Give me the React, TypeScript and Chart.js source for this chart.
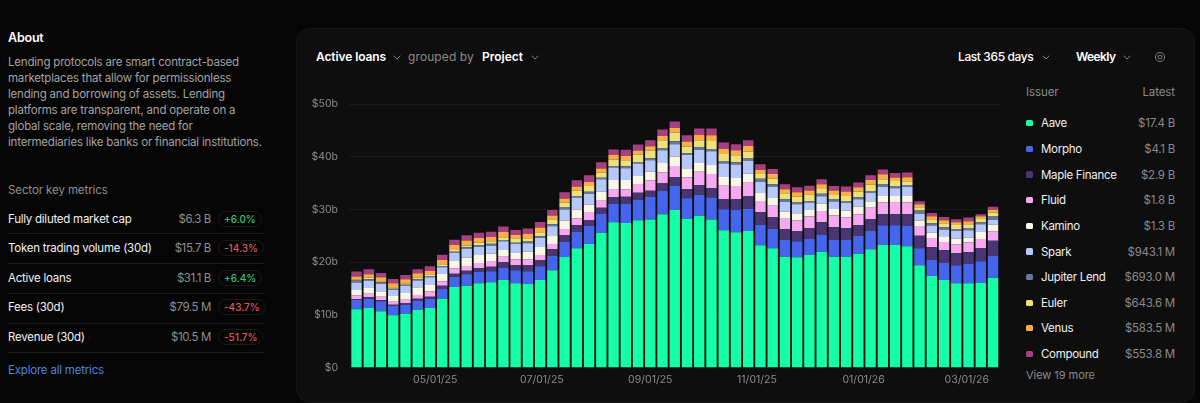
import React, { useEffect, useRef } from "react";
import { Chart, registerables } from "chart.js";

Chart.register(...registerables);

const weeks = [
  "2025-03-17","2025-03-24","2025-03-31","2025-04-07","2025-04-14","2025-04-21","2025-04-28",
  "2025-05-05","2025-05-12","2025-05-19","2025-05-26","2025-06-02","2025-06-09","2025-06-16",
  "2025-06-23","2025-06-30","2025-07-07","2025-07-14","2025-07-21","2025-07-28","2025-08-04",
  "2025-08-11","2025-08-18","2025-08-25","2025-09-01","2025-09-08","2025-09-15","2025-09-22",
  "2025-09-29","2025-10-06","2025-10-13","2025-10-20","2025-10-27","2025-11-03","2025-11-10",
  "2025-11-17","2025-11-24","2025-12-01","2025-12-08","2025-12-15","2025-12-22","2025-12-29",
  "2026-01-05","2026-01-12","2026-01-19","2026-01-26","2026-02-02","2026-02-09","2026-02-16",
  "2026-02-23","2026-03-02","2026-03-09","2026-03-16",
];

const aave = [11.08,11.33,10.70,9.94,10.25,11.01,11.33,13.10,15.32,15.57,16.01,16.20,16.65,16.01,15.89,16.65,18.48,21.02,22.66,23.48,25.64,27.60,27.47,27.98,28.11,29.12,29.94,28.23,28.86,28.11,26.08,25.70,25.95,23.23,22.66,21.08,20.95,21.40,22.03,21.08,21.08,21.65,22.47,23.36,23.29,23.04,19.43,17.41,16.65,16.01,16.01,16.14,17.09];
const morpho = [1.84,1.77,1.90,1.77,1.71,1.71,1.77,1.84,1.90,2.15,2.15,2.09,2.34,2.47,2.41,2.60,2.72,2.91,3.10,3.42,3.54,3.54,3.67,3.92,4.30,4.49,4.56,3.92,3.92,4.18,3.99,4.24,4.24,3.92,3.73,3.16,3.04,3.04,3.16,3.16,3.16,3.42,3.48,3.67,3.73,3.86,3.23,3.04,3.23,3.42,3.67,4.05,4.11];
const maple = [0.13,0.32,0.25,0.25,0.32,0.38,0.38,0.63,0.63,0.70,0.70,0.89,1.01,1.01,1.20,1.20,1.27,1.27,1.27,1.14,1.20,1.27,1.33,1.33,1.20,1.46,1.65,1.71,1.84,1.77,1.96,2.09,2.41,2.34,2.15,2.09,1.96,2.09,2.41,2.41,2.28,2.03,2.28,2.09,2.09,2.22,2.41,2.41,2.41,2.34,2.22,2.53,2.91];
const fluid = [0.70,0.63,0.63,0.57,0.63,0.70,1.01,0.82,1.01,0.89,1.01,1.08,1.08,1.08,1.08,0.95,1.01,1.14,1.33,1.52,1.33,1.52,1.39,1.65,1.96,2.03,2.15,2.28,2.60,2.72,2.53,2.47,2.53,2.15,2.22,1.96,2.03,2.15,2.15,2.22,2.03,2.03,2.15,2.22,2.22,2.22,1.84,1.77,1.58,1.65,1.90,1.71,1.77];
const kamino = [1.01,1.08,1.01,1.08,1.27,1.46,1.20,1.39,1.39,1.58,1.52,1.39,1.27,1.20,1.46,1.52,1.65,1.58,1.65,1.39,1.71,1.71,1.77,1.52,1.65,1.77,1.77,1.71,1.65,1.71,1.65,1.52,1.71,1.52,1.46,1.33,1.33,1.27,1.39,1.27,1.27,1.46,1.20,1.27,1.27,1.27,1.01,1.01,0.95,1.08,0.89,1.33,1.27];
const spark = [1.39,1.39,1.39,1.14,1.33,1.27,1.46,1.27,1.52,1.65,1.58,1.52,1.65,1.71,1.58,1.71,1.71,2.09,2.28,2.09,2.34,2.34,2.22,2.34,2.15,2.41,2.34,2.53,2.47,2.60,2.53,2.53,2.41,2.09,2.09,1.90,1.71,1.39,1.39,1.39,1.46,1.39,1.65,1.71,1.46,1.71,1.27,1.33,1.39,1.46,1.39,1.46,0.95];
const jupiter = [0.38,0.25,0.32,0.25,0.25,0.25,0.25,0.25,0.25,0.32,0.32,0.38,0.25,0.25,0.32,0.32,0.38,0.38,0.32,0.38,0.32,0.32,0.38,0.32,0.38,0.32,0.57,0.32,0.57,0.44,0.38,0.44,0.44,0.63,0.51,0.44,0.32,0.32,0.51,0.38,0.38,0.38,0.32,0.44,0.32,0.38,0.63,0.44,0.44,0.38,0.44,0.32,0.70];
const euler = [0.19,0.32,0.13,0.25,0.19,0.32,0.32,0.32,0.32,0.32,0.44,0.44,0.51,0.82,0.63,0.76,0.95,0.95,1.01,1.08,0.95,1.20,1.14,1.39,1.46,1.58,1.65,1.27,1.27,1.52,1.46,1.33,1.33,0.89,1.08,1.14,1.14,1.27,0.89,0.89,0.95,1.08,1.20,1.01,1.08,0.70,0.63,0.76,0.76,0.76,0.70,0.82,0.63];
const venus = [0.57,0.63,0.82,0.76,0.82,0.82,0.63,0.82,0.95,0.95,0.89,0.82,1.01,0.63,0.82,0.89,0.70,0.76,0.76,0.76,0.76,0.89,0.82,0.76,0.82,0.82,0.89,0.95,1.01,1.08,0.95,0.95,1.08,0.82,0.89,0.76,0.82,0.70,0.89,0.82,0.82,0.82,0.89,0.95,0.63,0.76,0.57,0.57,0.57,0.51,0.57,0.38,0.57];
const compound = [0.95,0.95,0.82,0.82,0.82,0.76,0.89,1.01,1.01,1.01,1.01,1.01,1.01,0.95,1.01,1.08,1.08,1.20,1.20,1.27,1.20,1.01,1.20,1.14,1.14,1.20,1.20,1.20,1.20,1.27,1.20,1.14,1.08,1.01,0.95,0.95,0.95,0.89,0.95,0.89,0.95,0.89,0.89,0.89,0.89,0.89,0.57,0.63,0.63,0.57,0.70,0.38,0.57];

const seriesNames = ["Aave","Morpho","Maple Finance","Fluid","Kamino","Spark","Jupiter Lend","Euler","Venus","Compound"];
const seriesValues = [aave,morpho,maple,fluid,kamino,spark,jupiter,euler,venus,compound];
const seriesColors = ["#14ffa8","#4465ec","#4a3573","#f6a8f0","#f9f6e6","#b6c8fb","#66779c","#ede27a","#fbae45","#a83f80"];
const latestLabels = ["$17.4 B","$4.1 B","$2.9 B","$1.8 B","$1.3 B","$943.1 M","$693.0 M","$643.6 M","$583.5 M","$553.8 M"];

const xTickDates = ["2025-05-01","2025-07-01","2025-09-01","2025-11-01","2026-01-01","2026-03-01"];
const xTickLabels = ["05/01/25","07/01/25","09/01/25","11/01/25","01/01/26","03/01/26"];
const yTicks = [0,10,20,30,40,50];
const yTickLabels = ["$0","$10b","$20b","$30b","$40b","$50b"];

const aboutLines = [
  "Lending protocols are smart contract-based",
  "marketplaces that allow for permissionless",
  "lending and borrowing of assets. Lending",
  "platforms are transparent, and operate on a",
  "global scale, removing the need for",
  "intermediaries like banks or financial institutions.",
];
const metricNames = ["Fully diluted market cap","Token trading volume (30d)","Active loans","Fees (30d)","Revenue (30d)"];
const metricValues = ["$6.3 B","$15.7 B","$31.1 B","$79.5 M","$10.5 M"];
const metricChanges = ["+6.0%","-14.3%","+6.4%","-43.7%","-51.7%"];

const FONT = "Inter, 'Noto Sans', sans-serif";
const DAY = 86400000;

const abs = (left: number, top: number, extra: React.CSSProperties = {}): React.CSSProperties => ({
  position: "absolute", left, top, whiteSpace: "nowrap", ...extra,
});

function Chevron({ x, y }: { x: number; y: number }) {
  return (
    <svg style={{ position: "absolute", left: x, top: y }} width="8" height="5" viewBox="0 0 8 5">
      <path d="M0.7 0.7 L4 4 L7.3 0.7" fill="none" stroke="#8d8d8d" strokeWidth="0.9" />
    </svg>
  );
}

function Label({ x, cy, text, size = 11.5, color = "#fff", weight = 400, right, spacing = -0.25 }: any) {
  const h = 18;
  const style: React.CSSProperties = {
    position: "absolute", top: cy - h / 2, height: h, lineHeight: h + "px",
    fontSize: size, color, fontWeight: weight, whiteSpace: "nowrap",
    letterSpacing: spacing,
  };
  if (right !== undefined) style.right = 1200 - right; else style.left = x;
  return <div style={style}>{text}</div>;
}

export default function App() {
  const ref = useRef<HTMLCanvasElement>(null);
  useEffect(() => {
    const times = weeks.map((d) => Date.parse(d));
    const tickTimes = xTickDates.map((d) => Date.parse(d));
    const chart = new Chart(ref.current!, {
      type: "bar",
      data: {
        datasets: seriesNames.map((name, i) => ({
          label: name,
          data: seriesValues[i].map((v, k) => ({ x: times[k], y: v })),
          backgroundColor: seriesColors[i],
          borderWidth: 0,
          barPercentage: 0.85,
          categoryPercentage: 1,
        })),
      },
      options: {
        animation: false,
        responsive: false,
        devicePixelRatio: 1,
        layout: { padding: { top: 14.3, right: 6, left: 0, bottom: 0 } },
        plugins: { legend: { display: false }, tooltip: { enabled: false } },
        scales: {
          x: {
            type: "linear",
            stacked: true,
            offset: false,
            min: times[0] - 4.3 * DAY,
            max: times[times.length - 1] + 4 * DAY,
            grid: { display: false, drawTicks: false },
            border: { display: false },
            afterBuildTicks: (s: any) => { s.ticks = tickTimes.map((value) => ({ value })); },
            afterFit: (s: any) => { s.height = 22.3; },
            ticks: {
              autoSkip: false, maxRotation: 0, padding: 6,
              color: "#8c8c8c",
              font: { family: FONT, size: 10.5 },
              callback: (v: any) => xTickLabels[tickTimes.indexOf(v)] ?? "",
            },
          },
          y: {
            stacked: true,
            min: 0,
            max: 50,
            grid: { color: "#1b1b1b", lineWidth: 1, drawTicks: true, tickLength: 3, tickColor: "transparent" },
            border: { display: false },
            afterBuildTicks: (s: any) => { s.ticks = yTicks.map((value) => ({ value })); },
            afterFit: (s: any) => { s.width = 53; },
            ticks: {
              padding: 8,
              color: "#8c8c8c",
              font: { family: FONT, size: 10.5 },
              callback: (v: any) => yTickLabels[yTicks.indexOf(v)] ?? "",
            },
          },
        },
      },
    } as any);
    return () => chart.destroy();
  }, []);

  const rowY = [219, 248, 278, 307, 337];
  const dividerY = [233, 263, 293, 323, 352];
  const legendY = [123, 149, 174.5, 200, 226, 251.5, 277, 303, 328, 354];
  const aboutY = [61.7, 77.7, 93.7, 109.7, 125.7, 141.7];

  return (
    <div style={{ position: "absolute", left: 0, top: 0, width: 1200, height: 403, overflow: "hidden", background: "#050505", fontFamily: FONT }}>
      <Label x={8} cy={38} text="About" size={12.5} weight={600} spacing={-0.2} />
      {aboutLines.map((t, i) => <Label key={t} x={8} cy={aboutY[i]} text={t} size={11.5} color="#a3a3a3" spacing={-0.2} />)}
      <Label x={8} cy={190} text="Sector key metrics" color="#8f8f8f" spacing={-0.1} />
      {metricNames.map((n, i) => {
        const up = metricChanges[i][0] === "+";
        return (
          <React.Fragment key={n}>
            <Label x={8} cy={rowY[i]} text={n} color="#f2f2f2" spacing={-0.25} />
            <Label right={211} cy={rowY[i]} text={metricValues[i]} color="#8f8f8f" spacing={-0.4} />
            <div style={abs(218, rowY[i] - 8, { height: 16, lineHeight: "14px", padding: "0 5px", border: "1px solid #191919", borderRadius: 8, fontSize: 10, fontWeight: 500, color: up ? "#2ec27e" : "#e0555c", boxSizing: "border-box" })}>{metricChanges[i]}</div>
            <div style={abs(8, dividerY[i], { width: 256, height: 1, background: "#191919" })} />
          </React.Fragment>
        );
      })}
      <Label x={8} cy={369.5} text="Explore all metrics" color="#4f84dc" spacing={-0.2} />

      <div style={{ position: "absolute", left: 296, top: 28, width: 899, height: 375, background: "#0e0e0e", border: "1px solid #171717", borderRadius: 14, boxSizing: "border-box" }} />

      <Label x={316} cy={57} text="Active loans" size={12} weight={600} spacing={-0.1} />
      <Chevron x={393} y={55} />
      <Label x={408} cy={57} text="grouped by" size={12} color="#8a8a8a" spacing={0.1} />
      <Label x={482} cy={57} text="Project" size={12} weight={600} spacing={0} />
      <Chevron x={531} y={55} />
      <Label x={958} cy={57} text="Last 365 days" size={12} weight={500} spacing={-0.4} />
      <Chevron x={1041.5} y={55} />
      <Label x={1076} cy={57} text="Weekly" size={12} weight={600} spacing={-0.6} />
      <Chevron x={1122.5} y={55} />
      <svg style={{ position: "absolute", left: 1154, top: 51 }} width="12" height="12" viewBox="0 0 12 12">
        <circle cx="6" cy="6" r="4.6" fill="none" stroke="#7d7d7d" strokeWidth="1" />
        <circle cx="6" cy="6" r="2" fill="none" stroke="#7d7d7d" strokeWidth="1" />
      </svg>

      <canvas ref={ref} width={710} height={300} style={{ position: "absolute", left: 296, top: 90, width: 710, height: 300 }} />

      <Label x={1026} cy={92} text="Issuer" color="#8a8a8a" spacing={-0.1} />
      <Label right={1175} cy={92} text="Latest" color="#8a8a8a" spacing={-0.1} />
      {seriesNames.map((n, i) => (
        <React.Fragment key={n}>
          <div style={abs(1026, legendY[i] - 3.25, { width: 6.5, height: 6.5, borderRadius: 1.5, background: seriesColors[i] })} />
          <Label x={1041} cy={legendY[i]} text={n} color="#f0f0f0" spacing={-0.3} />
          <Label right={1175} cy={legendY[i]} text={latestLabels[i]} color="#8a8a8a" spacing={-0.25} />
        </React.Fragment>
      ))}
      <Label x={1026} cy={375} text="View 19 more" size={11} color="#8a8a8a" spacing={-0.05} />
    </div>
  );
}
